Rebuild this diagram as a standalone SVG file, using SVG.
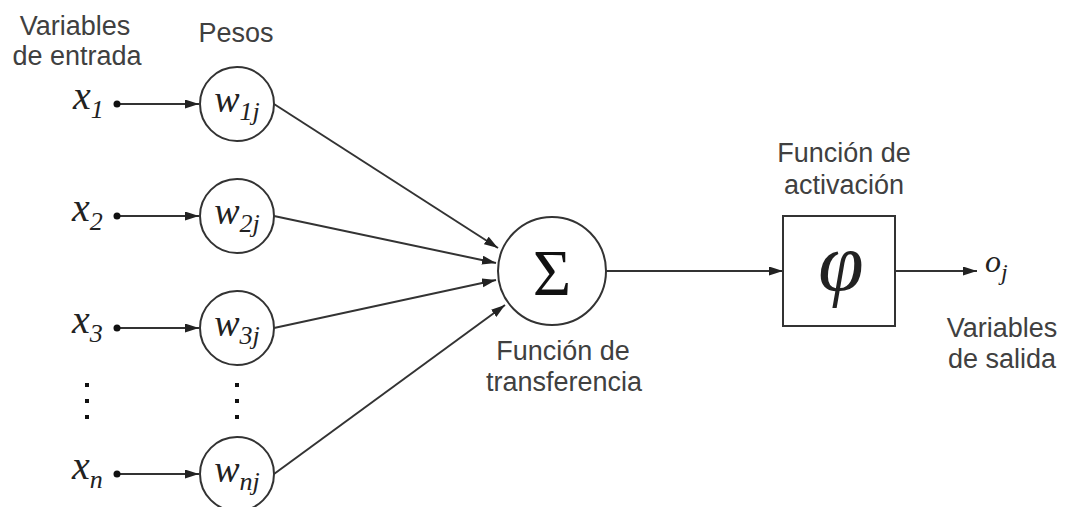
<svg xmlns="http://www.w3.org/2000/svg" width="1069" height="507" viewBox="0 0 1069 507">
<style>
.lbl{font-family:"Liberation Sans",Arial,sans-serif;font-size:27px;fill:#404040;text-anchor:middle}
.math{font-family:"Liberation Serif","Times New Roman",serif;font-style:italic;fill:#222}
.node{fill:#fff;stroke:#333;stroke-width:2}
.edge{stroke:#333;stroke-width:2;fill:none;marker-end:url(#ah)}
.dot{fill:#111}
</style>
<defs>
<marker id="ah" markerUnits="userSpaceOnUse" markerWidth="15" markerHeight="10" refX="14" refY="4.5" orient="auto">
<path d="M0,0 L14,4.5 L0,9 z" fill="#222"/>
</marker>
</defs>
<rect width="1069" height="507" fill="#fff"/>

<g id="labels">
<text class="lbl" x="75" y="35">Variables</text>
<text class="lbl" x="77" y="65">de entrada</text>
<text class="lbl" x="236" y="42">Pesos</text>
<text class="lbl" x="563" y="360">Función de</text>
<text class="lbl" x="564" y="391">transferencia</text>
<text class="lbl" x="844" y="162">Función de</text>
<text class="lbl" x="844" y="194">activación</text>
<text class="lbl" x="1002" y="337">Variables</text>
<text class="lbl" x="1002" y="368">de salida</text>
</g>

<g id="connectors">
<line class="edge" x1="117" y1="104" x2="199" y2="104"/>
<line class="edge" x1="117" y1="216" x2="199" y2="216"/>
<line class="edge" x1="117" y1="328" x2="199" y2="328"/>
<line class="edge" x1="117" y1="474" x2="199" y2="474"/>
<line class="edge" x1="274" y1="104" x2="498" y2="248"/>
<line class="edge" x1="274" y1="216" x2="496" y2="263"/>
<line class="edge" x1="274" y1="328" x2="496" y2="280"/>
<line class="edge" x1="274" y1="474" x2="505" y2="305"/>
<line class="edge" x1="606" y1="271" x2="783" y2="271"/>
<line class="edge" x1="895" y1="271" x2="977" y2="271"/>
</g>

<g id="inputs">
<g id="x1"><circle class="dot" cx="117" cy="104" r="3.5"/><text class="math" x="73" y="109" font-size="40">x<tspan font-size="26" dy="9">1</tspan></text></g>
<g id="x2"><circle class="dot" cx="117" cy="216" r="3.5"/><text class="math" x="72" y="221" font-size="40">x<tspan font-size="26" dy="9">2</tspan></text></g>
<g id="x3"><circle class="dot" cx="117" cy="328" r="3.5"/><text class="math" x="72" y="333" font-size="40">x<tspan font-size="26" dy="9">3</tspan></text></g>
<g id="xn"><circle class="dot" cx="117" cy="474" r="3.5"/><text class="math" x="72" y="479" font-size="40">x<tspan font-size="26" dy="9">n</tspan></text></g>
<g id="xdots"><rect class="dot" x="85" y="383" width="4" height="4"/><rect class="dot" x="85" y="399" width="4" height="4"/><rect class="dot" x="85" y="415" width="4" height="4"/></g>
</g>

<g id="weights">
<g id="w1j"><circle class="node" cx="237" cy="104" r="37"/><text class="math" x="237" y="112" font-size="38" text-anchor="middle">w<tspan font-size="26" dy="8">1j</tspan></text></g>
<g id="w2j"><circle class="node" cx="237" cy="216" r="37"/><text class="math" x="237" y="224" font-size="38" text-anchor="middle">w<tspan font-size="26" dy="8">2j</tspan></text></g>
<g id="w3j"><circle class="node" cx="237" cy="328" r="37"/><text class="math" x="237" y="336" font-size="38" text-anchor="middle">w<tspan font-size="26" dy="8">3j</tspan></text></g>
<g id="wnj"><circle class="node" cx="237" cy="474" r="37"/><text class="math" x="237" y="482" font-size="38" text-anchor="middle">w<tspan font-size="26" dy="8">nj</tspan></text></g>
<g id="wdots"><rect class="dot" x="235" y="383" width="4" height="4"/><rect class="dot" x="235" y="399" width="4" height="4"/><rect class="dot" x="235" y="415" width="4" height="4"/></g>
</g>

<g id="sum">
<circle class="node" cx="552" cy="271" r="54"/>
<text x="552" y="295" font-family="Liberation Serif,'Times New Roman',serif" font-size="66" fill="#111" text-anchor="middle">Σ</text>
</g>

<g id="activation">
<rect class="node" x="783" y="216" width="112" height="110"/>
<text class="math" x="841" y="290" font-size="82" text-anchor="middle" fill="#111">φ</text>
</g>

<g id="output">
<text class="math" x="985" y="272" font-size="32">o<tspan font-size="24" dy="8">j</tspan></text>
</g>
</svg>
